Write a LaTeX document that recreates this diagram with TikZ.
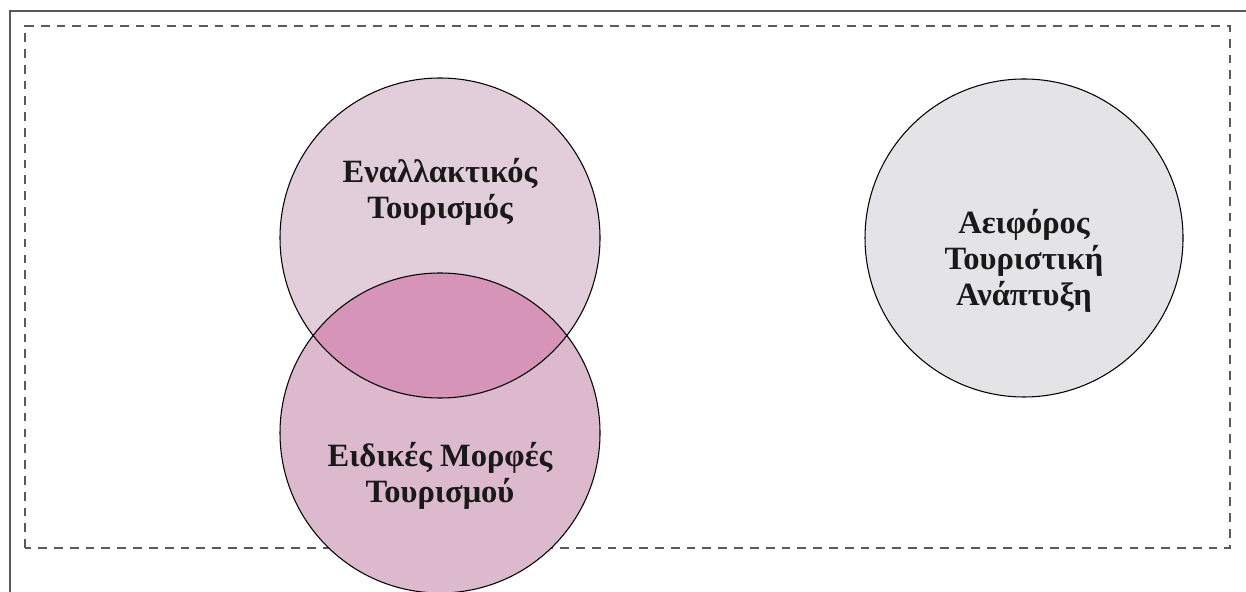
\documentclass[tikz,border=0pt]{standalone}
\usepackage{fontspec}
\setmainfont{Liberation Serif}
\usepackage{xcolor}
\usepackage{tikz}
\usetikzlibrary{positioning}

\definecolor{altfill}{RGB}{225,206,218}
\definecolor{specfill}{RGB}{221,185,206}
\definecolor{overlapfill}{RGB}{213,148,184}
\definecolor{susfill}{RGB}{228,228,230}
\definecolor{framegray}{RGB}{90,90,90}

\begin{document}
\begin{tikzpicture}[
    venn/.style={circle, draw=black, line width=0.6pt, minimum size=6.4cm, inner sep=0pt},
    vlabel/.style={align=center, font=\fontsize{18.5}{20.5}\selectfont\bfseries, text=black!90},
    boundary/.style={dashed, draw=framegray, line width=1pt, dash pattern=on 5pt off 4pt}
]

\useasboundingbox (0, 0) rectangle (24.92, 11.84);

% Outer frame (left and top only)
\draw[framegray, line width=1.2pt] (0.2, 0) -- (0.2, 11.62) -- (24.92, 11.62);

% System boundary
\draw[boundary] (0.5, 0.88) rectangle (24.6, 11.32);

% ===== CIRCLES =====
\node[venn, draw=none, fill=altfill] (alt) at (8.8, 7.08) {};
\node[venn, draw=none, fill=specfill] (spec) at (8.8, 3.18) {};
\begin{scope}
    \clip (8.8, 7.08) circle (3.2);
    \fill[overlapfill] (8.8, 3.18) circle (3.2);
\end{scope}
\node[venn] at (alt) {};
\node[venn] at (spec) {};
\node[venn, fill=susfill, minimum size=6.36cm] (sus) at (20.48, 7.08) {};

% ===== LABELS =====
\node[vlabel] (altlbl) at (8.8, 8.0) {Εναλλακτικός\\Τουρισμός};
\node[vlabel] (speclbl) at (8.8, 2.32) {Ειδικές Μορφές\\Τουρισμού};
\node[vlabel] (suslbl) at (20.48, 6.62) {Αειφόρος\\Τουριστική\\Ανάπτυξη};

\end{tikzpicture}
\end{document}
